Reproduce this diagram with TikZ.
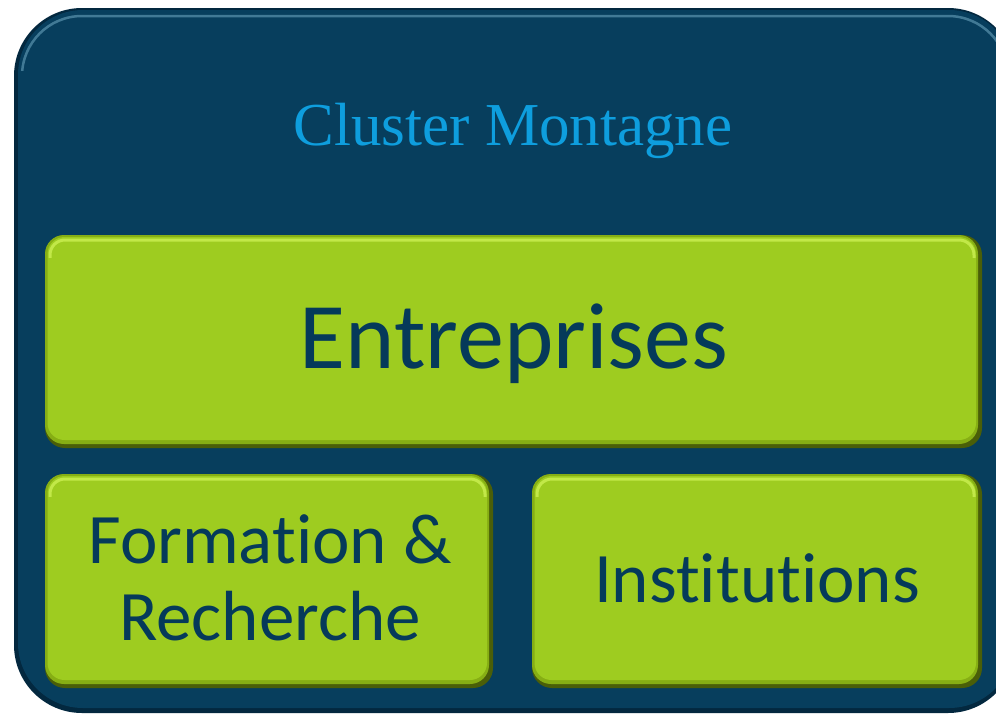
\documentclass[tikz,border=0pt]{standalone}
\usepackage{fontspec}
\setmainfont{Liberation Serif}
\newfontfamily\boxfont[Ligatures=NoCommon]{Carlito}
\definecolor{navy}{HTML}{073E5D}
\definecolor{navyedge}{HTML}{03283F}
\definecolor{navyhl}{HTML}{5A93AE}
\definecolor{titleblue}{HTML}{0E9EDE}
\definecolor{lime}{HTML}{9ECC20}
\definecolor{limemid}{HTML}{86AE14}
\definecolor{limedark}{HTML}{4A5E08}
\definecolor{limehl}{HTML}{D2F55A}
\definecolor{textnavy}{HTML}{053A5A}
\tikzset{
  boxlabel/.style={font=\boxfont, text=textnavy, anchor=base, inner sep=0pt},
}
\newcommand{\limebox}[4]{%
  \fill[limedark] (#1,#2) [rounded corners=20pt] rectangle (#3,#4);
  \fill[limemid] (#1,#2) [rounded corners=19pt] rectangle (#3-4,#4-4);
  \fill[lime] (#1+2.5,#2+2) [rounded corners=17pt] rectangle (#3-6,#4-8);
  \begin{scope}
    \clip (#1,#2) rectangle (#3,#2+22);
    \draw[limehl, line width=3pt, opacity=0.7] (#1+5,#2+5) [rounded corners=15pt] rectangle (#3-8,#4-10);
  \end{scope}
}
\begin{document}
\begin{tikzpicture}[x=1pt,y=-1pt]
\useasboundingbox (0,0) rectangle (996,715);
\fill[white] (0,0) rectangle (996,715);
\begin{scope}
\clip (0,0) rectangle (996,715);
% outer panel
\fill[navyedge] (14,8) [rounded corners=68pt] rectangle (1016,713);
\fill[navy] (18,10) [rounded corners=65pt] rectangle (1014,708);
\begin{scope}
  \clip (0,0) rectangle (996,70);
  \draw[navyhl, line width=2.5pt, opacity=0.7] (22,16) [rounded corners=60pt] rectangle (1008,702);
\end{scope}
\end{scope}
% title
\node[font={\fontsize{61}{70}\selectfont}, text=titleblue, anchor=base, inner sep=0pt] (title) at (513,145) {Cluster Montagne};
% boxes
\limebox{45}{235}{982}{448}
\limebox{45}{474}{493}{688}
\limebox{532}{474}{982}{688}
% labels
\node[boxlabel, font={\boxfont\fontsize{94}{100}\selectfont}] (ent) at (514,368) {Entreprises};
\node[boxlabel, font={\boxfont\fontsize{71}{77}\selectfont}] (form) at (270,563) {Formation \&};
\node[boxlabel, font={\boxfont\fontsize{71}{77}\selectfont}] (rech) at (270,640) {Recherche};
\node[boxlabel, font={\boxfont\fontsize{71}{77}\selectfont}] (inst) at (757,602) {Institutions};
\end{tikzpicture}
\end{document}
